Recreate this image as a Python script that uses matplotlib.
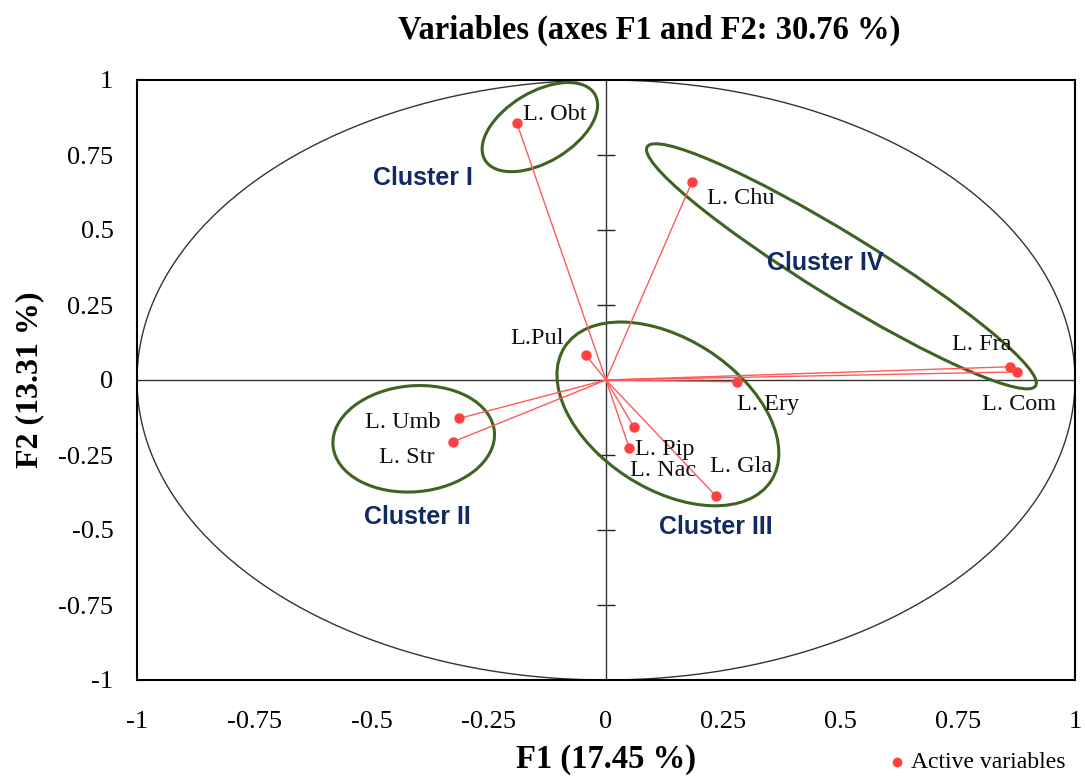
import matplotlib
matplotlib.use("Agg")
import matplotlib.pyplot as plt
import numpy as np
from matplotlib.patches import Ellipse
from matplotlib.transforms import ScaledTranslation

plt.rcParams['font.family'] = ['Liberation Serif', 'DejaVu Serif']

# active variables: loadings on F1 / F2
names = ['L. Obt', 'L. Chu', 'L.Pul', 'L. Fra', 'L. Com', 'L. Ery',
         'L. Umb', 'L. Str', 'L. Pip', 'L. Nac', 'L. Gla']
f1 = [-0.190, 0.183, -0.043, 0.861, 0.877, 0.279,
      -0.313, -0.326, 0.060, 0.050, 0.234]
f2 = [0.856, 0.659, 0.083, 0.044, 0.027, -0.006,
      -0.128, -0.206, -0.158, -0.228, -0.386]

# label placement (pixel offsets from the point, alignment)
lab_dx = [6, 15, -22, 2, 2, 0, -19, -19, 1, 1, -6]
lab_dy = [9, -16, 17, 22, -33, -23, -4, -16, -22, -22, 29]
lab_ha = ['left', 'left', 'right', 'right', 'center', 'left',
          'right', 'right', 'left', 'left', 'left']

# clusters: centre (data), ellipse size in inches, angle on screen, label position
clusters = ['Cluster I', 'Cluster II', 'Cluster III', 'Cluster IV']
cl_cx = [-0.141, -0.410, 0.132, 0.502]
cl_cy = [0.843, -0.196, -0.113, 0.379]
cl_w = [1.28, 1.62, 2.46, 4.56]
cl_h = [0.70, 1.06, 1.50, 0.64]
cl_ang = [31, 5, -33, -31.6]
cl_lx = [-0.390, -0.403, 0.235, 0.467]
cl_ly = [0.673, -0.457, -0.49, 0.39]

ticks = [-1, -0.75, -0.5, -0.25, 0, 0.25, 0.5, 0.75, 1]
tick_labels = ['-1', '-0.75', '-0.5', '-0.25', '0', '0.25', '0.5', '0.75', '1']

fig = plt.figure(figsize=(10.85, 7.83), dpi=100)
ax = fig.add_axes([137/1085, 1-680/783, 938/1085, 600/783])
ax.set_xlim(-1, 1)
ax.set_ylim(-1, 1)

# correlation circle
t = np.linspace(0, 2*np.pi, 400)
ax.plot(np.cos(t), np.sin(t), color='#333333', lw=1.0)

# centre axes
ax.axhline(0, color='#333333', lw=1.0)
ax.axvline(0, color='#333333', lw=1.0)
inner = [v for v in ticks if v not in (-1, 0, 1)]
ax.plot([0]*len(inner), inner, ls='none', marker='_', ms=13, mew=1.0, color='#222222')

# vectors
for x, y in zip(f1, f2):
    ax.plot([0, x], [0, y], color='#ff5a5a', lw=1.0, zorder=3)
ax.plot(f1, f2, 'o', color='#ff4040', ms=6.5, zorder=4)

for n, x, y, dx, dy, ha in zip(names, f1, f2, lab_dx, lab_dy, lab_ha):
    ax.annotate(n, (x, y), xytext=(dx, dy), textcoords='offset pixels',
                ha=ha, va='center', fontsize=17.5, color='#111111', zorder=5)

# cluster outlines
for c, cx, cy, w, h, a, lx, ly in zip(clusters, cl_cx, cl_cy, cl_w, cl_h, cl_ang, cl_lx, cl_ly):
    tr = fig.dpi_scale_trans + ScaledTranslation(cx, cy, ax.transData)
    ax.add_patch(Ellipse((0, 0), w, h, angle=a, transform=tr, fill=False,
                         edgecolor='#3f6422', lw=2.2, zorder=2))
    ax.text(lx, ly, c, ha='center', va='center', fontsize=18, fontweight='bold',
            family=['Liberation Sans', 'DejaVu Sans'], color='#112a66')

ax.set_xticks(ticks)
ax.set_xticklabels(tick_labels)
ax.set_yticks(ticks)
ax.set_yticklabels(tick_labels)
ax.tick_params(length=0, labelsize=19)
ax.tick_params(axis='x', pad=22)
ax.tick_params(axis='y', pad=17)
for s in ax.spines.values():
    s.set_linewidth(1.5)
    s.set_color('black')

ax.set_xlabel('F1 (17.45 %)', fontsize=23.5, fontweight='bold', labelpad=8)
ax.set_ylabel('F2 (13.31 %)', fontsize=23, fontweight='bold', labelpad=10)
fig.text(649/1085, 1-30/783, 'Variables (axes F1 and F2: 30.76 %)', ha='center', va='center',
         fontsize=23.5, fontweight='bold')

# legend
fig.lines.append(plt.Line2D([897/1085], [1-762/783], marker='o', color='#ff4040', ms=6,
                            ls='none', transform=fig.transFigure))
fig.text(911/1085, 1-762/783, 'Active variables', ha='left', va='center', fontsize=17)

fig.savefig('out.png', dpi=100)
